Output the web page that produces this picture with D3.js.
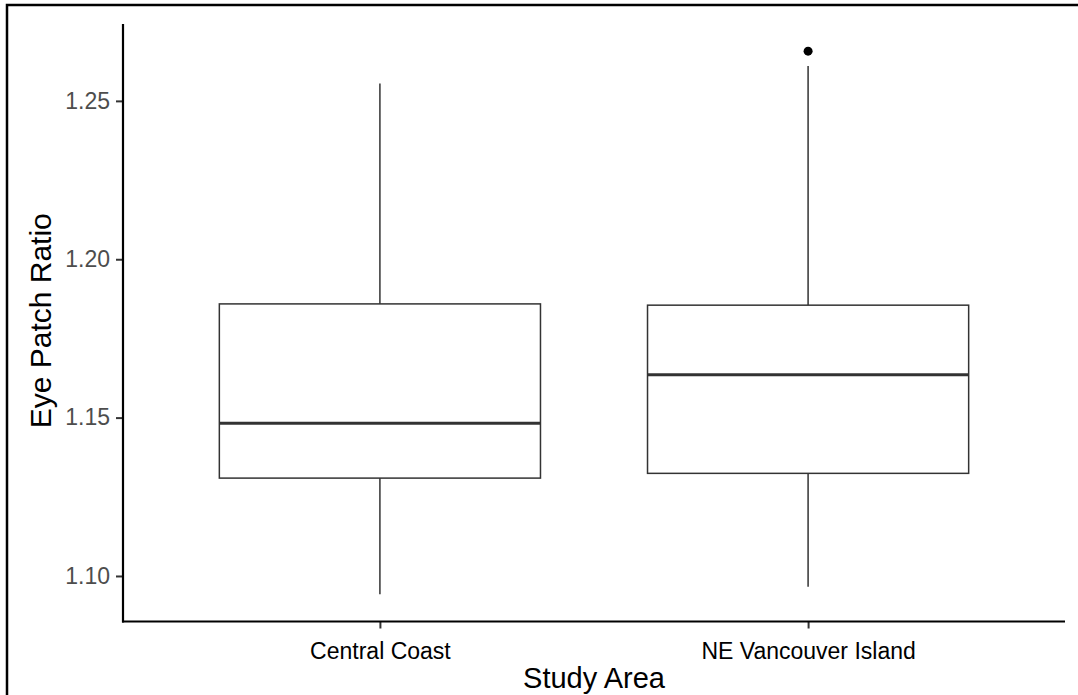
<!DOCTYPE html>
<html>
<head>
<meta charset="utf-8">
<script src="https://cdn.jsdelivr.net/npm/d3@7"></script>
<style>
  html, body { margin: 0; padding: 0; background: #fff; }
  svg { display: block; }
</style>
</head>
<body>
<svg id="chart" width="1078" height="695"></svg>
<script>
// Box summaries for eye patch ratio by study area
const areas = ["Central Coast", "NE Vancouver Island"];
const whiskerLow = [1.0942, 1.0966];
const q1 = [1.1309, 1.1324];
const medians = [1.1482, 1.1635];
const q3 = [1.1859, 1.1855];
const whiskerHigh = [1.2555, 1.2610];
const outliers = [[], [1.2657]];
const yTicks = [1.10, 1.15, 1.20, 1.25];

const svg = d3.select("#chart");
const W = 1078, H = 695;
const margin = { left: 123, right: 13, top: 24, bottom: 74 };
const innerBottom = H - margin.bottom + 0.5;
const FONT = "Liberation Sans, Arial, sans-serif";

// outer frame
svg.append("rect")
  .attr("x", 7).attr("y", 5)
  .attr("width", W + 10).attr("height", H + 10)
  .attr("fill", "none").attr("stroke", "#000").attr("stroke-width", 2.5);

// y domain with 5% padding either side
const allVals = whiskerLow.concat(whiskerHigh, outliers.flat());
const lo = d3.min(allVals), hi = d3.max(allVals);
const pad = (hi - lo) * 0.05;
const y = d3.scaleLinear()
  .domain([lo - pad, hi + pad])
  .range([innerBottom, margin.top]);

// discrete x positions with 0.6 unit padding at each end
const xLin = d3.scaleLinear()
  .domain([0.4, areas.length + 0.6])
  .range([margin.left, W - margin.right]);
const xPos = i => xLin(i + 1);
const boxHalf = (xLin(1.75) - xLin(1)) / 2;

const g = svg.append("g");

// boxes
areas.forEach((a, i) => {
  const cx = xPos(i);
  g.append("line")
    .attr("x1", cx).attr("x2", cx)
    .attr("y1", y(q3[i])).attr("y2", y(whiskerHigh[i]))
    .attr("stroke", "#333").attr("stroke-width", 1.5);
  g.append("line")
    .attr("x1", cx).attr("x2", cx)
    .attr("y1", y(q1[i])).attr("y2", y(whiskerLow[i]))
    .attr("stroke", "#333").attr("stroke-width", 1.5);
  g.append("rect")
    .attr("x", cx - boxHalf).attr("width", boxHalf * 2)
    .attr("y", y(q3[i])).attr("height", y(q1[i]) - y(q3[i]))
    .attr("fill", "#fff").attr("stroke", "#333").attr("stroke-width", 1.5);
  g.append("line")
    .attr("x1", cx - boxHalf).attr("x2", cx + boxHalf)
    .attr("y1", y(medians[i])).attr("y2", y(medians[i]))
    .attr("stroke", "#333").attr("stroke-width", 3);
  outliers[i].forEach(v => {
    g.append("circle")
      .attr("cx", cx).attr("cy", y(v)).attr("r", 4.5)
      .attr("fill", "#000");
  });
});

// y axis
const yAxis = svg.append("g")
  .attr("transform", `translate(${margin.left},0)`)
  .call(d3.axisLeft(y).tickValues(yTicks).tickFormat(d3.format(".2f")).tickSize(7).tickPadding(6));
yAxis.select(".domain").remove();
yAxis.selectAll(".tick line").attr("stroke", "#333").attr("stroke-width", 2);
yAxis.selectAll("text")
  .attr("font-family", FONT)
  .attr("font-size", 23).attr("fill", "#4d4d4d");
svg.append("line")
  .attr("x1", margin.left).attr("x2", margin.left)
  .attr("y1", margin.top).attr("y2", innerBottom + 1)
  .attr("stroke", "#000").attr("stroke-width", 2.2);

// x axis
const xAxis = svg.append("g")
  .attr("transform", `translate(0,${innerBottom})`)
  .call(d3.axisBottom(xLin).tickValues(areas.map((a, i) => i + 1))
    .tickFormat((d) => areas[d - 1]).tickSize(7).tickPadding(14));
xAxis.select(".domain").remove();
xAxis.selectAll(".tick line").attr("stroke", "#333").attr("stroke-width", 2);
xAxis.selectAll("text")
  .attr("font-family", FONT)
  .attr("font-size", 23).attr("fill", "#000");
svg.append("line")
  .attr("x1", margin.left - 1).attr("x2", W - margin.right)
  .attr("y1", innerBottom).attr("y2", innerBottom)
  .attr("stroke", "#000").attr("stroke-width", 2.2);

// axis titles
svg.append("text")
  .attr("x", (margin.left + W - margin.right) / 2).attr("y", 688)
  .attr("text-anchor", "middle")
  .attr("font-family", FONT)
  .attr("font-size", 29).attr("fill", "#000")
  .text("Study Area");
svg.append("text")
  .attr("transform", `translate(51,${(margin.top + innerBottom) / 2 - 2}) rotate(-90)`)
  .attr("text-anchor", "middle")
  .attr("font-family", FONT)
  .attr("font-size", 30).attr("fill", "#000")
  .text("Eye Patch Ratio");
</script>
</body>
</html>
